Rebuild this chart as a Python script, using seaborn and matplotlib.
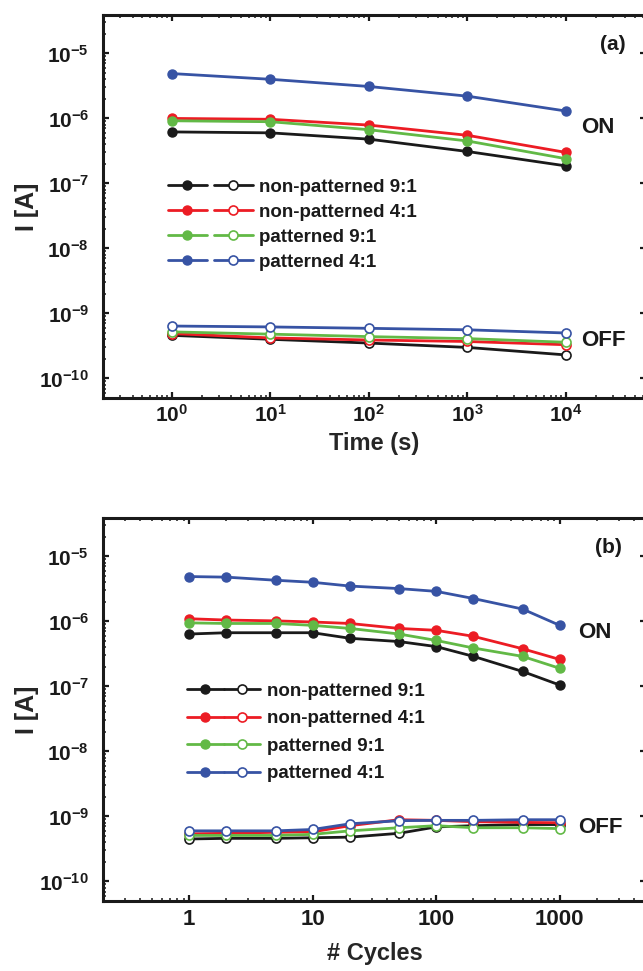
import math
import matplotlib
matplotlib.use("Agg")
import matplotlib.pyplot as plt
import seaborn as sns
from matplotlib.lines import Line2D
from matplotlib.legend_handler import HandlerTuple
from matplotlib.ticker import FuncFormatter, FixedLocator, LogLocator, NullFormatter

# ---------------- data ----------------
series_names = ["non-patterned 9:1", "non-patterned 4:1", "patterned 9:1", "patterned 4:1"]
series_colors = ["#1a1a1a", "#ec1c24", "#62b946", "#3753a4"]

time_s = [1, 10, 100, 1000, 10000]
time_on_np91 = [6.2e-7, 6.0e-7, 4.8e-7, 3.1e-7, 1.86e-7]
time_on_np41 = [1.0e-6, 9.7e-7, 7.9e-7, 5.5e-7, 3.0e-7]
time_on_p91 = [9.2e-7, 8.9e-7, 6.7e-7, 4.5e-7, 2.4e-7]
time_on_p41 = [4.9e-6, 4.0e-6, 3.1e-6, 2.2e-6, 1.3e-6]
time_off_np91 = [4.6e-10, 4.0e-10, 3.5e-10, 3.0e-10, 2.3e-10]
time_off_np41 = [4.9e-10, 4.2e-10, 3.9e-10, 3.7e-10, 3.3e-10]
time_off_p91 = [5.2e-10, 4.8e-10, 4.4e-10, 4.1e-10, 3.6e-10]
time_off_p41 = [6.4e-10, 6.2e-10, 5.9e-10, 5.6e-10, 5.0e-10]

cycles = [1, 2, 5, 10, 20, 50, 100, 200, 500, 1000]
cyc_on_np91 = [6.4e-7, 6.7e-7, 6.7e-7, 6.7e-7, 5.5e-7, 4.9e-7, 4.1e-7, 2.9e-7, 1.7e-7, 1.05e-7]
cyc_on_np41 = [1.1e-6, 1.05e-6, 1.02e-6, 9.8e-7, 9.3e-7, 7.8e-7, 7.3e-7, 5.9e-7, 3.8e-7, 2.6e-7]
cyc_on_p91 = [9.5e-7, 9.3e-7, 9.3e-7, 8.7e-7, 7.8e-7, 6.4e-7, 5.1e-7, 3.9e-7, 2.9e-7, 1.9e-7]
cyc_on_p41 = [4.9e-6, 4.8e-6, 4.3e-6, 4.0e-6, 3.5e-6, 3.2e-6, 2.9e-6, 2.25e-6, 1.55e-6, 8.7e-7]
cyc_off_np91 = [4.5e-10, 4.6e-10, 4.6e-10, 4.7e-10, 4.8e-10, 5.5e-10, 6.9e-10, 7.2e-10, 7.5e-10, 7.5e-10]
cyc_off_np41 = [5.4e-10, 5.5e-10, 5.7e-10, 5.8e-10, 7.2e-10, 8.9e-10, 8.7e-10, 8.3e-10, 8.1e-10, 8.0e-10]
cyc_off_p91 = [5.1e-10, 5.1e-10, 5.1e-10, 5.3e-10, 6.0e-10, 6.7e-10, 7.2e-10, 6.7e-10, 6.7e-10, 6.5e-10]
cyc_off_p41 = [6.0e-10, 6.0e-10, 6.0e-10, 6.3e-10, 7.7e-10, 8.6e-10, 8.7e-10, 8.7e-10, 8.9e-10, 8.9e-10]

LW = 2.0
MS = 6.5

sns.set_style("ticks")
plt.rcParams.update({
    "font.family": ["Liberation Sans", "DejaVu Sans"],
    "font.weight": "bold",
    "axes.labelweight": "bold",
    "mathtext.fontset": "custom",
    "mathtext.bf": "Liberation Sans:bold",
    "mathtext.rm": "Liberation Sans:bold",
    "axes.linewidth": 2.2,
    "axes.edgecolor": "#1a1a1a",
    "text.color": "#1a1a1a",
    "xtick.color": "#1a1a1a",
    "ytick.color": "#1a1a1a",
})


def pow_label(v, pos):
    return r"$\mathbf{10^{%d}}$" % round(math.log10(v))


def draw_panel(ax, x, on_sets, off_sets, xlim, legend_pad, legend_anchor,
               handlelength, labelspacing):

    for color, on, off in zip(series_colors, on_sets, off_sets):
        sns.lineplot(x=x, y=on, color=color, linewidth=LW, marker="o",
                     markersize=MS, markerfacecolor=color,
                     markeredgecolor=color, markeredgewidth=1.0, ax=ax)
        sns.lineplot(x=x, y=off, color=color, linewidth=LW, marker="o",
                     markersize=MS, markerfacecolor="white",
                     markeredgecolor=color, markeredgewidth=1.2, ax=ax)

    ax.set_xscale("log")
    ax.set_yscale("log")
    ax.set_xlim(*xlim)
    ax.set_ylim(5e-11, 3.9e-5)

    ax.yaxis.set_major_locator(FixedLocator([1e-10, 1e-9, 1e-8, 1e-7, 1e-6, 1e-5]))
    ax.yaxis.set_minor_locator(LogLocator(base=10, subs=range(2, 10), numticks=20))
    ax.yaxis.set_major_formatter(FuncFormatter(pow_label))
    ax.yaxis.set_minor_formatter(NullFormatter())
    ax.xaxis.set_minor_locator(LogLocator(base=10, subs=range(2, 10), numticks=20))
    ax.xaxis.set_minor_formatter(NullFormatter())

    ax.tick_params(which="both", direction="in", top=True, right=True)
    ax.tick_params(which="major", length=4.5, width=1.6, labelsize=15)
    ax.tick_params(which="minor", length=2.5, width=1.1)
    ax.tick_params(axis="y", which="major", pad=10)
    ax.tick_params(axis="x", which="major", pad=4)

    for s in ax.spines.values():
        s.set_linewidth(2.2)

    ax.set_ylabel("I [A]", fontsize=18, fontweight="bold")
    ax.yaxis.set_label_coords(-0.118, 0.5)

    handles = []
    for c in series_colors:
        h_on = Line2D([], [], color=c, lw=LW, marker="o", ms=MS, mfc=c, mec=c)
        h_off = Line2D([], [], color=c, lw=LW, marker="o", ms=MS, mfc="white", mec=c, mew=1.2)
        handles.append((h_on, h_off))

    ax.legend(handles, series_names,
              handler_map={tuple: HandlerTuple(ndivide=None, pad=legend_pad)},
              loc="center left", bbox_to_anchor=legend_anchor,
              frameon=False, borderpad=0, borderaxespad=0,
              handlelength=handlelength, handletextpad=0.35,
              labelspacing=labelspacing, numpoints=1,
              prop={"size": 13.5, "weight": "bold"})


fig = plt.figure(figsize=(6.43, 9.71), dpi=100)

ax_a = fig.add_axes([103 / 643, 1 - 398 / 971, 543 / 643, 383 / 971])
ax_b = fig.add_axes([103 / 643, 1 - 901 / 971, 543 / 643, 383 / 971])

# (a) retention vs time
draw_panel(ax_a, time_s,
           [time_on_np91, time_on_np41, time_on_p91, time_on_p41],
           [time_off_np91, time_off_np41, time_off_p91, time_off_p41],
           (0.2, 6.5e4), 0.4, (0.12, 0.452), 4.5, 0.42)
ax_a.xaxis.set_major_locator(FixedLocator([1, 10, 100, 1000, 10000]))
ax_a.xaxis.set_major_formatter(FuncFormatter(pow_label))
ax_a.set_xlabel("Time (s)", fontsize=17, fontweight="bold")
ax_a.xaxis.set_label_coords(0.5, -0.088)
ax_a.xaxis.label.set_verticalalignment("top")

ax_a.text(0.939, 0.922, "(a)", transform=ax_a.transAxes, ha="center", va="center", fontsize=15)
ax_a.text(0.880, 0.705, "ON", transform=ax_a.transAxes, ha="left", va="center", fontsize=16)
ax_a.text(0.880, 0.151, "OFF", transform=ax_a.transAxes, ha="left", va="center", fontsize=16)

# (b) endurance vs cycles
draw_panel(ax_b, cycles,
           [cyc_on_np91, cyc_on_np41, cyc_on_p91, cyc_on_p41],
           [cyc_off_np91, cyc_off_np41, cyc_off_p91, cyc_off_p41],
           (0.2, 5000), 0.0, (0.155, 0.44), 3.9, 0.55)
ax_b.xaxis.set_major_locator(FixedLocator([1, 10, 100, 1000]))
ax_b.xaxis.set_major_formatter(FuncFormatter(lambda v, p: "%d" % v))
ax_b.tick_params(axis="x", which="major", labelsize=16, pad=6)
ax_b.set_xlabel("# Cycles", fontsize=17, fontweight="bold")
ax_b.xaxis.set_label_coords(0.5, -0.108)
ax_b.xaxis.label.set_verticalalignment("top")

ax_b.text(0.930, 0.924, "(b)", transform=ax_b.transAxes, ha="center", va="center", fontsize=15)
ax_b.text(0.875, 0.702, "ON", transform=ax_b.transAxes, ha="left", va="center", fontsize=16)
ax_b.text(0.875, 0.193, "OFF", transform=ax_b.transAxes, ha="left", va="center", fontsize=16)

fig.savefig("out.png", dpi=100)
